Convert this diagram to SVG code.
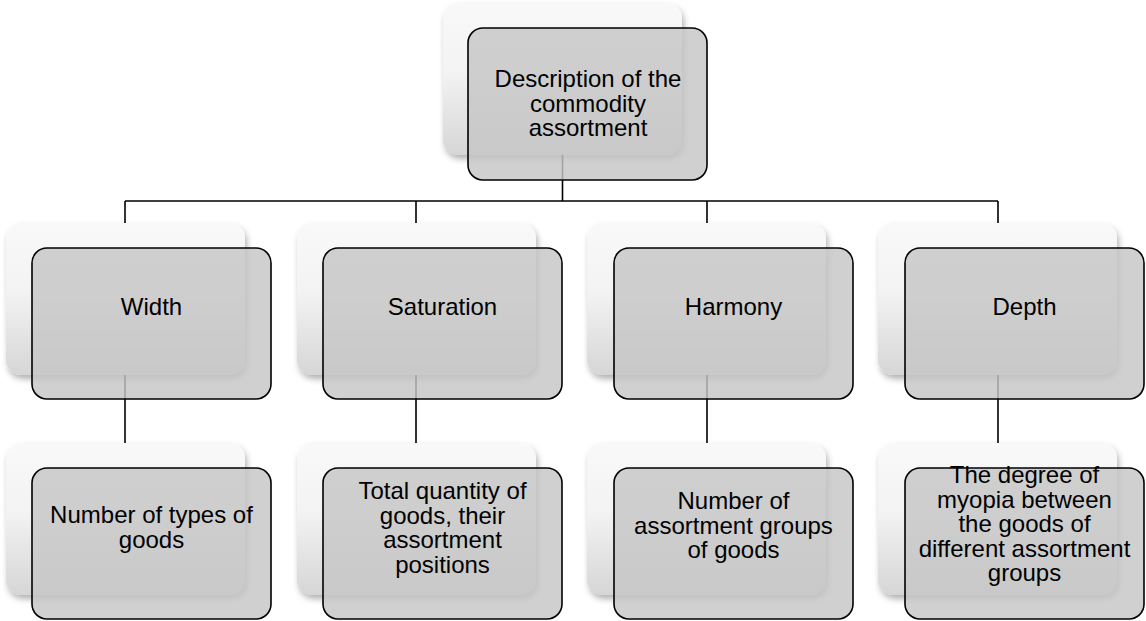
<svg xmlns="http://www.w3.org/2000/svg" width="1146" height="621" viewBox="0 0 1146 621">
<defs>
<linearGradient id="bg" x1="0" y1="0" x2="0" y2="1">
<stop offset="0" stop-color="#f9f9f9"/>
<stop offset="0.45" stop-color="#f3f3f3"/>
<stop offset="1" stop-color="#d6d6d6"/>
</linearGradient>
<filter id="sh" x="-10%" y="-10%" width="125%" height="130%">
<feDropShadow dx="2" dy="4" stdDeviation="3" flood-color="#000" flood-opacity="0.3"/>
</filter>
</defs>
<style>
.back{fill:url(#bg);filter:url(#sh)}
.front{fill:#c6c6c6;fill-opacity:0.82;stroke:#000;stroke-width:1.6}
.t{font-family:"Liberation Sans",Arial,sans-serif;font-size:24px;fill:#000;text-anchor:middle}
.c{stroke:#000;stroke-width:1.6;fill:none}
</style>
<rect width="1146" height="621" fill="#fff"/>
<g id="backs">
<rect class="back" x="443" y="3" width="239" height="152" rx="15"/>
<rect class="back" x="6" y="223" width="239" height="152" rx="15"/>
<rect class="back" x="297" y="223" width="239" height="152" rx="15"/>
<rect class="back" x="587" y="223" width="239" height="152" rx="15"/>
<rect class="back" x="878" y="223" width="239" height="152" rx="15"/>
<rect class="back" x="6" y="443" width="239" height="152" rx="15"/>
<rect class="back" x="297" y="443" width="239" height="152" rx="15"/>
<rect class="back" x="587" y="443" width="239" height="152" rx="15"/>
<rect class="back" x="878" y="443" width="239" height="152" rx="15"/>
</g>
<g id="connectors">
<path class="c" d="M562.5 155V201M125 201H998M125 201V223M416 201V223M707 201V223M998 201V223"/>
<path class="c" d="M125 375V443M416 375V443M707 375V443M998 375V443"/>
</g>
<g id="root">
<rect class="front" x="468" y="28" width="239" height="152" rx="15"/>
<text class="t"><tspan x="588" y="87">Description of the</tspan><tspan x="588" y="111.5">commodity</tspan><tspan x="588" y="136">assortment</tspan></text>
</g>
<g id="width">
<rect class="front" x="32" y="248" width="239" height="151" rx="15"/>
<text class="t" x="151.5" y="315">Width</text>
</g>
<g id="saturation">
<rect class="front" x="323" y="248" width="239" height="151" rx="15"/>
<text class="t" x="442.5" y="315">Saturation</text>
</g>
<g id="harmony">
<rect class="front" x="614" y="248" width="239" height="151" rx="15"/>
<text class="t" x="733.5" y="315">Harmony</text>
</g>
<g id="depth">
<rect class="front" x="905" y="248" width="239" height="151" rx="15"/>
<text class="t" x="1024.5" y="315">Depth</text>
</g>
<g id="width-desc">
<rect class="front" x="32" y="468" width="239" height="151" rx="15"/>
<text class="t"><tspan x="151.5" y="523">Number of types of</tspan><tspan x="151.5" y="548">goods</tspan></text>
</g>
<g id="saturation-desc">
<rect class="front" x="323" y="468" width="239" height="151" rx="15"/>
<text class="t"><tspan x="442.5" y="499">Total quantity of</tspan><tspan x="442.5" y="523.5">goods, their</tspan><tspan x="442.5" y="548">assortment</tspan><tspan x="442.5" y="572.5">positions</tspan></text>
</g>
<g id="harmony-desc">
<rect class="front" x="614" y="468" width="239" height="151" rx="15"/>
<text class="t"><tspan x="733.5" y="509">Number of</tspan><tspan x="733.5" y="533.5">assortment groups</tspan><tspan x="733.5" y="558">of goods</tspan></text>
</g>
<g id="depth-desc">
<rect class="front" x="905" y="468" width="239" height="151" rx="15"/>
<text class="t"><tspan x="1024.5" y="483">The degree of</tspan><tspan x="1024.5" y="507.5">myopia between</tspan><tspan x="1024.5" y="532">the goods of</tspan><tspan x="1024.5" y="556.5">different assortment</tspan><tspan x="1024.5" y="581">groups</tspan></text>
</g>
</svg>
